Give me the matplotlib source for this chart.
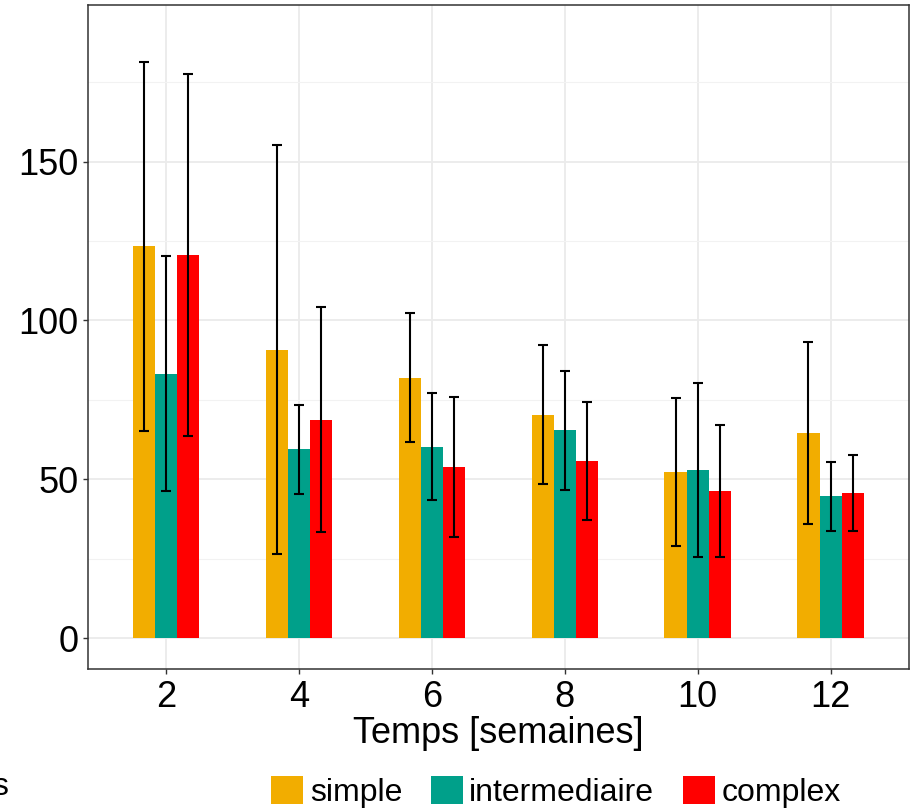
import numpy as np
import matplotlib
matplotlib.use("Agg")
from matplotlib import pyplot as plt
from matplotlib.patches import Patch

plt.rcParams["font.family"] = ["Liberation Sans", "DejaVu Sans"]

weeks = [2, 4, 6, 8, 10, 12]
conditions = ["simple", "intermediaire", "complex"]
colors = ["#F2AD00", "#00A08A", "#FF0000"]

mean_simple = [123.3, 90.8, 82.0, 70.4, 52.3, 64.6]
mean_inter = [83.3, 59.5, 60.3, 65.5, 53.0, 44.6]
mean_complex = [120.6, 68.8, 53.8, 55.8, 46.2, 45.7]

sd_simple = [58.1, 64.4, 20.3, 21.9, 23.3, 28.6]
sd_inter = [37.0, 14.0, 16.9, 18.7, 27.4, 10.9]
sd_complex = [56.9, 35.3, 22.0, 18.5, 20.8, 12.1]

means = [mean_simple, mean_inter, mean_complex]
sds = [sd_simple, sd_inter, sd_complex]

W, H = 910, 810
fig = plt.figure(figsize=(W / 100, H / 100), dpi=100)
ax = fig.add_axes([87.5 / W, 1 - 669 / H, (909 - 87.5) / W, (669 - 4.7) / H])

x = np.array(weeks, dtype=float)
width = 0.333
for i, (m, s, c) in enumerate(zip(means, sds, colors)):
    xpos = x + (i - 1) * width
    ax.bar(xpos, m, width=width, color=c, zorder=2)
    ax.errorbar(xpos, m, yerr=s, fmt="none", ecolor="black", elinewidth=1.5,
                capsize=3.3, capthick=1.5, zorder=3)

ax.set_xlim(0.819, 13.18)
ax.set_ylim(-9.7, 199.4)
ax.set_xticks(weeks)
ax.set_yticks([0, 50, 100, 150])
ax.set_yticks([25, 75, 125, 175], minor=True)
ax.grid(True, which="major", color="#EBEBEB", linewidth=1.3, zorder=0)
ax.grid(True, which="minor", axis="y", color="#F2F2F2", linewidth=0.8, zorder=0)
ax.set_axisbelow(True)

ax.tick_params(axis="both", which="major", labelsize=26, length=3.6, width=1.0,
               color="#333333", labelcolor="black")
ax.tick_params(axis="y", which="major", pad=3)
ax.tick_params(axis="x", which="major", pad=4)
ax.tick_params(which="minor", length=0)
for sp in ax.spines.values():
    sp.set_color("#333333")
    sp.set_linewidth(1.1)

ax.set_xlabel("Temps [semaines]", fontsize=26, va="baseline")
ax.xaxis.set_label_coords(0.5, -(743 - 669) / (669 - 4.7))

handles = [Patch(facecolor=c, edgecolor="none") for c in colors]
fig.legend(handles, conditions, loc="center", bbox_to_anchor=(556 / W, 1 - 792 / H),
           ncol=3, frameon=False, fontsize=23, handlelength=1.0, handleheight=1.0,
           handletextpad=0.2, columnspacing=0.9, borderpad=0, borderaxespad=0)

fig.text(8 / W, 1 - 795 / H, "s", fontsize=23, ha="right", va="baseline")

fig.savefig("out.png", dpi=100)
